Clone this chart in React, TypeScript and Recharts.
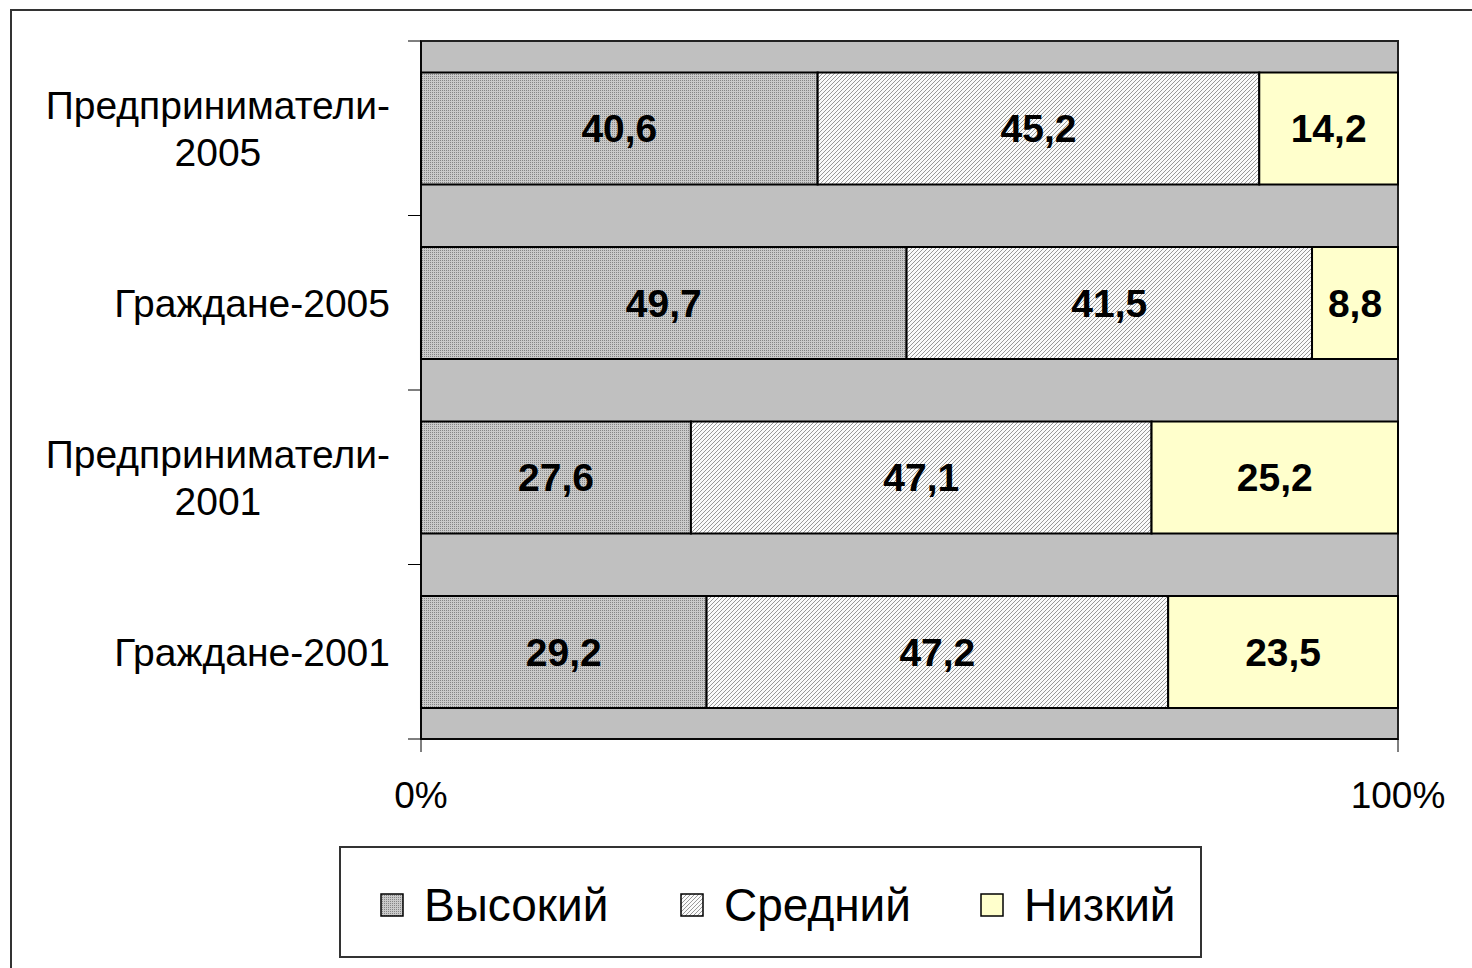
import { BarChart, Bar, XAxis, YAxis, ReferenceArea, LabelList } from 'recharts';

const categories = ['Предприниматели-\n2005', 'Граждане-2005', 'Предприниматели-\n2001', 'Граждане-2001'];
const highValues = [40.6, 49.7, 27.6, 29.2];
const midValues = [45.2, 41.5, 47.1, 47.2];
const lowValues = [14.2, 8.8, 25.2, 23.5];
const seriesNames = ['Высокий', 'Средний', 'Низкий'];
const xTicks = [0, 1];

const data = categories.map((name, i) => ({
  name,
  high: highValues[i],
  mid: midValues[i],
  low: lowValues[i],
}));

const FONT = "'Liberation Sans', Arial, sans-serif";
const fills = ['url(#pHigh)', 'url(#pMid)', '#FFFFCC'];

let ctx: CanvasRenderingContext2D | null = null;
const measure = (text: string, font: string) => {
  if (!ctx) ctx = document.createElement('canvas').getContext('2d');
  if (!ctx) return text.length * 18;
  ctx.font = font;
  return ctx.measureText(text).width;
};

// category label plus tick marks at the band edges (payload.offset = half band)
const YTick = (props: any) => {
  const { x, y, payload, index, visibleTicksCount } = props;
  const axisX = 421;
  const half = payload.offset || 0;
  const lines = String(payload.value).split('\n');
  const w = Math.max(...lines.map((l) => measure(l, `39px ${FONT}`)));
  const cx = x - w / 2;
  return (
    <g>
      <line x1={axisX - 13} x2={axisX} y1={y - half} y2={y - half} stroke="#000" strokeWidth={1} />
      {index === visibleTicksCount - 1 && (
        <line x1={axisX - 13} x2={axisX} y1={y + half} y2={y + half} stroke="#000" strokeWidth={1} />
      )}
      {lines.map((l, i) => (
        <text
          key={i}
          x={cx}
          y={y + (i - (lines.length - 1) / 2) * 47}
          dy="0.36em"
          textAnchor="middle"
          fontSize={39}
          fontFamily={FONT}
          fill="#000"
        >
          {l}
        </text>
      ))}
    </g>
  );
};

const fmt = (v: any) => Number(v).toFixed(1).replace('.', ',');

const Swatch = ({ fill }: { fill: string }) => (
  <svg width={24} height={24} style={{ display: 'block' }}>
    <rect x={1} y={1} width={22} height={22} fill={fill} stroke="#000" strokeWidth={1.5} />
  </svg>
);

export default function App() {
  const legendX = [41, 341, 641];
  return (
    <div style={{ position: 'absolute', left: 0, top: 0, width: 1472, height: 968, overflow: 'hidden', background: '#fff', fontFamily: FONT }}>
      <div style={{ position: 'absolute', left: 10, top: 9, width: 1600, height: 1100, border: '2px solid #333' }} />
      <div style={{ position: 'absolute', left: 0, top: 0 }}>
        <BarChart
          width={1472}
          height={968}
          data={data}
          layout="vertical"
          stackOffset="expand"
          barCategoryGap="18%"
          margin={{ top: 41, right: 74, left: 0, bottom: 169 }}
        >
          <defs>
            <pattern id="pHigh" width={2} height={2} patternUnits="userSpaceOnUse">
              <rect width={2} height={2} fill="#cacaca" />
              <rect width={1} height={1} fill="#858585" />
            </pattern>
            <pattern id="pMid" width={4} height={4} patternUnits="userSpaceOnUse">
              <rect width={4} height={4} fill="#fbfbfb" />
              <path d="M-1,1 l2,-2 M0,4 l4,-4 M3,5 l2,-2" stroke="#999" strokeWidth={1} />
            </pattern>
          </defs>
          <XAxis
            type="number"
            domain={[0, 1]}
            ticks={xTicks}
            tickFormatter={(v) => `${Math.round(v * 100)}%`}
            tickSize={13}
            tickMargin={30}
            height={60}
            axisLine={{ stroke: '#000', strokeWidth: 1.5 }}
            tickLine={{ stroke: '#000', strokeWidth: 1 }}
            tick={{ fill: '#000', fontSize: 37, fontFamily: FONT }}
          />
          <YAxis
            yAxisId="cat"
            type="category"
            dataKey="name"
            width={421}
            axisLine={{ stroke: '#000', strokeWidth: 1.5 }}
            tickLine={false}
            tickSize={0}
            tickMargin={31}
            tick={<YTick />}
          />
          <ReferenceArea
            yAxisId="cat"
            x1={0}
            x2={1}
            fill="#C0C0C0"
            fillOpacity={1}
            stroke="#222"
            strokeWidth={2}
          />
          {['high', 'mid', 'low'].map((key, i) => (
            <Bar
              key={key}
              dataKey={key}
              name={seriesNames[i]}
              yAxisId="cat"
              stackId="a"
              fill={fills[i]}
              stroke="#000"
              strokeWidth={2}
              isAnimationActive={false}
            >
              <LabelList
                dataKey={key}
                position="center"
                formatter={fmt}
                fill="#000"
                fontSize={39}
                fontWeight="bold"
                fontFamily={FONT}
              />
            </Bar>
          ))}
        </BarChart>
      </div>
      <div
        style={{
          position: 'absolute',
          left: 339,
          top: 846,
          width: 859,
          height: 108,
          border: '2px solid #333',
          background: '#fff',
        }}
      >
        {seriesNames.map((n, i) => (
          <div
            key={n}
            style={{ position: 'absolute', left: legendX[i] - 2, top: 3, height: 108, display: 'flex', alignItems: 'center' }}
          >
            <Swatch fill={fills[i]} />
            <span style={{ marginLeft: 20, fontSize: 46, color: '#000', lineHeight: 1, whiteSpace: 'nowrap' }}>{n}</span>
          </div>
        ))}
      </div>
    </div>
  );
}
